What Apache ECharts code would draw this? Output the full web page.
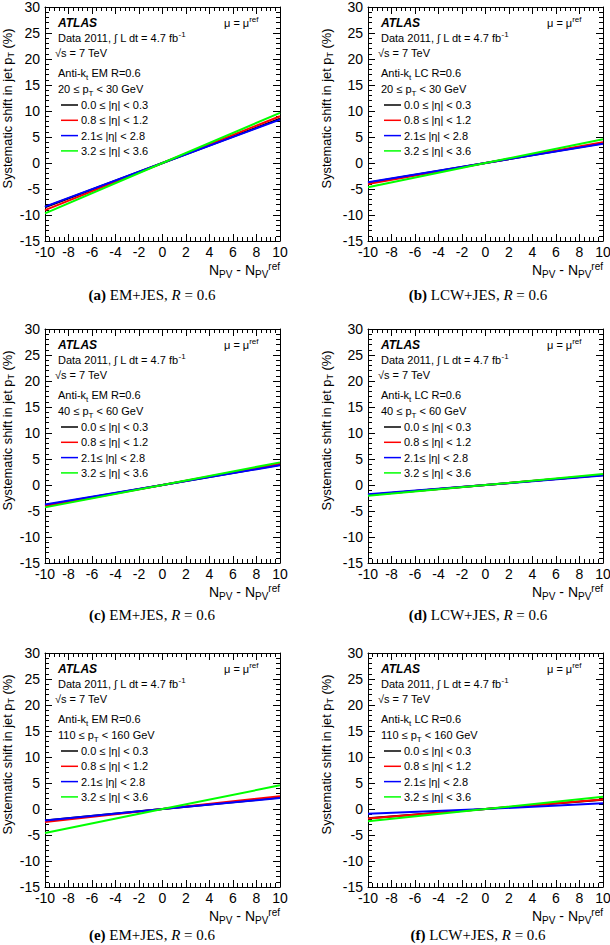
<!DOCTYPE html>
<html><head><meta charset="utf-8">
<script src="https://cdn.jsdelivr.net/npm/echarts@6/dist/echarts.min.js"></script>
<style>html,body{margin:0;padding:0;background:#fff}#c{width:610px;height:945px}</style>
</head><body><div id="c"></div>
<script>
// ---- data ----
const npvDiff = [-10, 0, 10];
const etaBins = ['0.0 ≤ |η| < 0.3', '0.8 ≤ |η| < 1.2', '2.1≤ |η| < 2.8', '3.2 ≤ |η| < 3.6'];
// each panel: [eta0.0-0.3, eta0.8-1.2, eta2.1-2.8, eta3.2-3.6], values at N_PV - N_PV^ref = -10, 0, 10
const shiftEmPt20  = [[-8.5, 0, 8.5], [-9.05, 0, 9.0], [-8.4, 0, 8.35], [-9.7, 0, 9.65]];
const shiftLcwPt20 = [[-3.8, 0, 3.8], [-4.05, 0, 4.0], [-3.7, 0, 3.7], [-4.65, 0, 4.55]];
const shiftEmPt40  = [[-3.9, 0, 3.9], [-4.1, 0, 4.1], [-3.75, 0, 3.8], [-4.3, 0, 4.35]];
const shiftLcwPt40 = [[-1.9, 0, 1.9], [-1.9, 0, 1.9], [-1.8, 0, 1.85], [-2.05, 0, 2.1]];
const shiftEmPt110 = [[-2.2, 0, 2.2], [-2.5, 0, 2.45], [-2.2, 0, 2.1], [-4.6, 0, 4.55]];
const shiftLcwPt110= [[-1.8, 0, 1.8], [-1.85, 0, 1.85], [-0.9, 0, 1.1], [-2.35, 0, 2.35]];
const yTickRange = [-15, 30, 5];
const xTickRange = [-10, 10, 2];
const algoLabels = ['Anti-k{sub|t} EM R=0.6', 'Anti-k{sub|t} LC R=0.6'];
const ptBinLabels = ['20 ≤ p{sub|T} < 30 GeV', '40 ≤ p{sub|T} < 60 GeV', '110 ≤ p{sub|T} < 160 GeV'];
const captionLetters = ['(a)', '(b)', '(c)', '(d)', '(e)', '(f)'];
const calibLabels = ['EM+JES', 'LCW+JES'];

const panelData = [shiftEmPt20, shiftLcwPt20, shiftEmPt40, shiftLcwPt40, shiftEmPt110, shiftLcwPt110];

// ---- layout ----
const FONT = 'Liberation Sans, Arial, Helvetica, sans-serif';
const SERIF = 'Liberation Serif, Times New Roman, serif';
const colLeft = [45, 368];
const rowTop = [7, 329, 653];
const W = 235, H = 234;
const captionY = [295, 615, 935];
const captionX = [152, 478];
const lineColors = ['#000000', '#ff0000', '#0000ff', '#00ff00'];

const grids = [], xAxes = [], yAxes = [], series = [], legends = [], graphics = [];
const subsup = {
  sub: {fontSize: 8, verticalAlign: 'bottom', fontFamily: FONT, fill: '#000', color: '#000'},
  sup: {fontSize: 8, verticalAlign: 'top', fontFamily: FONT, fill: '#000', color: '#000'}
};

panelData.forEach((vals, p) => {
  const col = p % 2, row = Math.floor(p / 2);
  const gl = colLeft[col], gt = rowTop[row];
  grids.push({left: gl, top: gt, width: W, height: H, containLabel: false, outerBoundsMode: 'none'});
  const tickCommon = {
    axisLine: {show: true, onZero: false, lineStyle: {color: '#000', width: 1}},
    axisTick: {show: true, inside: true, length: 7, lineStyle: {color: '#000'}},
    minorTick: {show: true, splitNumber: 5, length: 4, lineStyle: {color: '#000'}},
    splitLine: {show: false}, minorSplitLine: {show: false}
  };
  xAxes.push(Object.assign({
    type: 'value', gridIndex: p, position: 'bottom',
    min: xTickRange[0], max: xTickRange[1], interval: xTickRange[2],
    axisLabel: {fontSize: 14, color: '#000', fontFamily: FONT, margin: 4},
    name: 'N{sub|PV} - N{sub|PV}{sup|ref}', nameLocation: 'end', nameGap: 0, nameMoveOverlap: false,
    nameTextStyle: {fontSize: 14, color: '#000', fontFamily: FONT, align: 'right', verticalAlign: 'top',
      lineHeight: 18, padding: [20, 0, 0, 0],
      rich: {sub: {fontSize: 10, verticalAlign: 'bottom', lineHeight: 18}, sup: {fontSize: 10, verticalAlign: 'top', lineHeight: 18}}}
  }, tickCommon));
  xAxes.push(Object.assign({
    type: 'value', gridIndex: p, position: 'top',
    min: xTickRange[0], max: xTickRange[1], interval: xTickRange[2],
    axisLabel: {show: false}
  }, tickCommon));
  yAxes.push(Object.assign({
    type: 'value', gridIndex: p, position: 'left',
    min: yTickRange[0], max: yTickRange[1], interval: yTickRange[2],
    axisLabel: {fontSize: 14, color: '#000', fontFamily: FONT, margin: 5},
    name: 'Systematic shift in jet p{sub|T} (%)', nameLocation: 'middle', nameGap: col === 0 ? 30 : 34,
    nameMoveOverlap: false,
    nameTextStyle: {fontSize: 12.8, color: '#000', fontFamily: FONT, lineHeight: 14, padding: [0, 0, 0, 31],
      rich: {sub: {fontSize: 9, verticalAlign: 'bottom', lineHeight: 16}}}
  }, tickCommon));
  yAxes.push(Object.assign({
    type: 'value', gridIndex: p, position: 'right',
    min: yTickRange[0], max: yTickRange[1], interval: yTickRange[2],
    axisLabel: {show: false}
  }, tickCommon));

  vals.forEach((v, k) => {
    series.push({
      type: 'line', name: etaBins[k], xAxisIndex: 2 * p, yAxisIndex: 2 * p,
      data: npvDiff.map((x, i) => [x, v[i]]),
      showSymbol: false, symbol: 'none', silent: true,
      lineStyle: {width: 2, color: lineColors[k]}, itemStyle: {color: lineColors[k]}
    });
  });

  legends.push({
    left: gl + 16, top: gt + 92, orient: 'vertical', data: etaBins,
    icon: 'rect', itemWidth: 17, itemHeight: 1.5, itemGap: 3.3, padding: 0,
    selectedMode: false,
    textStyle: {fontSize: 11, color: '#000', fontFamily: FONT, lineHeight: 12, padding: [0, 0, 0, -2]}
  });

  const txt = (x, y, text, extra) => graphics.push({
    type: 'text', x: x, y: y, silent: true,
    style: Object.assign({text: text, fill: '#000', fontSize: 11, fontFamily: FONT,
      align: 'left', verticalAlign: 'middle', lineHeight: 16, rich: subsup}, extra || {})
  });
  txt(gl + 13, gt + 16, 'ATLAS', {fontSize: 12, fontWeight: 'bold', fontStyle: 'italic'});
  txt(gl + 179, gt + 16, 'μ = μ{sup|ref}');
  txt(gl + 13, gt + 31, 'Data 2011, ∫ L dt = 4.7 fb{sup|-1}');
  txt(gl + 10, gt + 46, '√s = 7 TeV');
  txt(gl + 13, gt + 66, algoLabels[col]);
  txt(gl + 13, gt + 82, ptBinLabels[row]);

  graphics.push({
    type: 'text', x: captionX[col], y: captionY[row], silent: true,
    style: {
      text: '{b|' + captionLetters[p] + '} ' + calibLabels[col] + ', {i|R} = 0.6',
      fill: '#000', fontSize: 15, fontFamily: SERIF, align: 'center', verticalAlign: 'middle',
      rich: {b: {fontWeight: 'bold', fontSize: 15, fontFamily: SERIF, fill: '#000'},
             i: {fontStyle: 'italic', fontSize: 15, fontFamily: SERIF, fill: '#000'}}
    }
  });
});

const chart = echarts.init(document.getElementById('c'), null, {renderer: 'svg', width: 610, height: 945});
chart.setOption({
  animation: false,
  backgroundColor: '#fff',
  grid: grids, xAxis: xAxes, yAxis: yAxes, series: series, legend: legends,
  graphic: graphics
});
</script>
</body></html>
